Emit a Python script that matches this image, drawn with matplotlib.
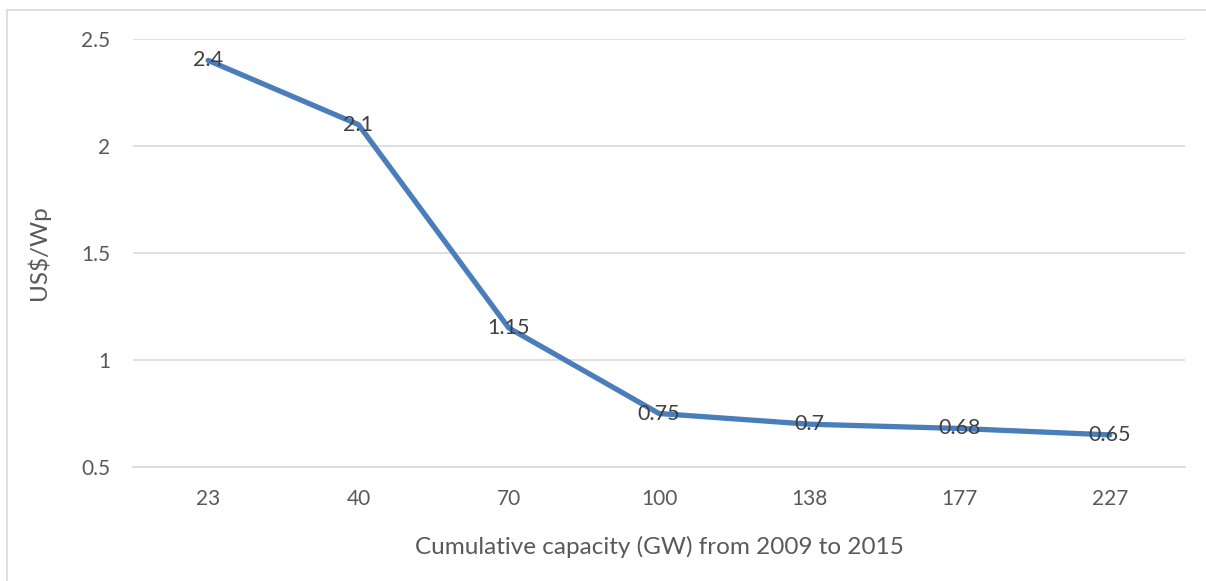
import matplotlib
matplotlib.use("Agg")
import matplotlib.pyplot as plt
from matplotlib.patches import Rectangle

# cumulative PV capacity vs module price
capacity_gw = ["23", "40", "70", "100", "138", "177", "227"]
price_usd_wp = [2.4, 2.1, 1.15, 0.75, 0.7, 0.68, 0.65]
price_labels = ["2.4", "2.1", "1.15", "0.75", "0.7", "0.68", "0.65"]
y_ticks = [0.5, 1, 1.5, 2, 2.5]
y_tick_labels = ["0.5", "1", "1.5", "2", "2.5"]

LINE = "#4a7ebb"
GRID = "#d9d9d9"
TXT = "#595959"
LBL = "#404040"

plt.rcParams["font.family"] = ["Lato", "DejaVu Sans"]

fig = plt.figure(figsize=(12.06, 5.81), dpi=100)
# chart area frame
fig.patches.append(Rectangle((7 / 1206, -0.05), 1.1, 1 - 10 / 581 + 0.05,
                             transform=fig.transFigure, fill=False,
                             edgecolor=GRID, linewidth=1.2))

ax = fig.add_axes([133 / 1206, 1 - 467 / 581, 1052 / 1206, 428 / 581])
x = range(len(capacity_gw))
ax.plot(x, price_usd_wp, color=LINE, linewidth=3.8, solid_capstyle="round",
        solid_joinstyle="round", zorder=3)
for xi, v, s in zip(x, price_usd_wp, price_labels):
    ax.text(xi, v, s, ha="center", va="center", fontsize=15.5, color=LBL, zorder=4)

ax.set_xlim(-0.5, len(capacity_gw) - 0.5)
ax.set_ylim(0.5, 2.5)
ax.set_xticks(list(x), capacity_gw)
ax.set_yticks(y_ticks, y_tick_labels)
ax.tick_params(length=0, labelsize=15, labelcolor=TXT)
ax.tick_params(axis="y", pad=16.5)
ax.tick_params(axis="x", pad=16)
ax.grid(axis="y", color=GRID, linewidth=1.2)
ax.set_axisbelow(True)
for side in ["top", "right", "left"]:
    ax.spines[side].set_visible(False)
ax.spines["bottom"].set_color(GRID)
ax.spines["bottom"].set_linewidth(1.2)

ax.set_xlabel("Cumulative capacity (GW) from 2009 to 2015", fontsize=17.5,
              color=TXT, va="center")
ax.set_ylabel("US$/Wp", fontsize=17.5, color=TXT, va="center")
ax.xaxis.set_label_coords(0.5, -0.187)
ax.yaxis.set_label_coords(-0.0903, 0.5)

fig.savefig("out.png", dpi=100)
